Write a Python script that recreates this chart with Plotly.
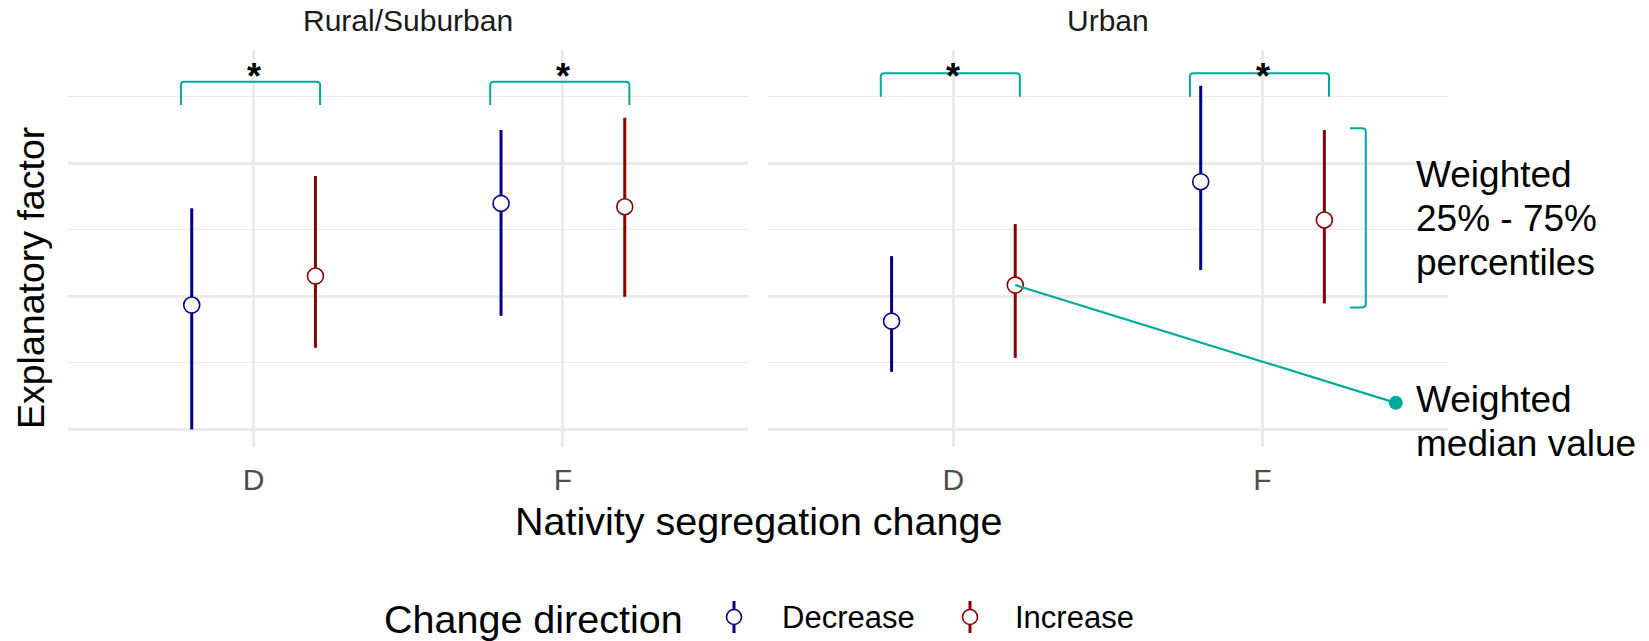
import plotly.graph_objects as go

# ---------------------------------------------------------------- data
categories = ["D", "F"]
panels = ["Rural/Suburban", "Urban"]
directions = ["Decrease", "Increase"]
direction_colors = ["#00008B", "#8B0000"]
dodge = [-0.2, 0.2]

# weighted median and weighted 25% / 75% percentiles, ordered as categories
rural_decrease_median = [0.935, 1.699]
rural_decrease_q25 = [0.000, 0.854]
rural_decrease_q75 = [1.662, 2.250]
rural_increase_median = [1.153, 1.674]
rural_increase_q25 = [0.614, 0.997]
rural_increase_q75 = [1.905, 2.343]

urban_decrease_median = [0.814, 1.862]
urban_decrease_q25 = [0.433, 1.198]
urban_decrease_q75 = [1.303, 2.583]
urban_increase_median = [1.085, 1.574]
urban_increase_q25 = [0.538, 0.947]
urban_increase_q75 = [1.544, 2.250]

# significance brackets: (leg bottom, bar top) per panel, span around category
rural_bracket = [2.438, 2.614]
urban_bracket = [2.501, 2.677]
bracket_span = [-0.235, 0.215]
signif_label = "*"

# explanatory key drawn in the Urban panel
iqr_key_x = [2.283, 2.334]
iqr_key_y = [0.917, 2.263]
median_key_dot = [2.431, 0.200]
iqr_key_text = ["Weighted", "25% - 75%", "percentiles"]
median_key_text = ["Weighted", "median value"]

TEAL = "#00A99D"
GRID = "#EBEBEB"
FONT = "Arial, Liberation Sans, sans-serif"

series = {
    ("Rural/Suburban", "Decrease"): (rural_decrease_median, rural_decrease_q25, rural_decrease_q75),
    ("Rural/Suburban", "Increase"): (rural_increase_median, rural_increase_q25, rural_increase_q75),
    ("Urban", "Decrease"): (urban_decrease_median, urban_decrease_q25, urban_decrease_q75),
    ("Urban", "Increase"): (urban_increase_median, urban_increase_q25, urban_increase_q75),
}

# ---------------------------------------------------------------- layout geometry
W, H = 1649, 641
ML, MR, MT, MB = 68, 201, 50, 194
PW, PH = W - ML - MR, H - MT - MB
Y_RANGE = [-0.132, 2.852]
X_RANGE = [0.4, 2.6]
DOMAINS = [[0, 0.4931], [0.5072, 1]]


def px_x(px):
    return (px - ML) / PW


def px_y(py):
    return (H - MB - py) / PH


fig = go.Figure()
axis_ids = [("x", "y"), ("x2", "y2")]

# ---------------------------------------------------------------- point ranges
for p, panel in enumerate(panels):
    xa, ya = axis_ids[p]
    for d, direction in enumerate(directions):
        med, lo, hi = series[(panel, direction)]
        xs = [i + 1 + dodge[d] for i in range(len(categories))]
        fig.add_trace(go.Scatter(
            x=xs, y=med, mode="markers", xaxis=xa, yaxis=ya,
            name=direction, showlegend=False, cliponaxis=False,
            marker=dict(symbol="circle", size=16, color="white",
                        line=dict(color=direction_colors[d], width=1.6)),
            error_y=dict(type="data", symmetric=False,
                         array=[h - m for h, m in zip(hi, med)],
                         arrayminus=[m - l for m, l in zip(med, lo)],
                         width=0, thickness=3, color=direction_colors[d]),
        ))

# ---------------------------------------------------------------- significance brackets
shapes = []
for p, bracket in enumerate([rural_bracket, urban_bracket]):
    xa, ya = axis_ids[p]
    yb, yt = bracket
    dx, dy = 0.012, 0.025
    for i in range(len(categories)):
        xl, xr = i + 1 + bracket_span[0], i + 1 + bracket_span[1]
        path = (f"M {xl},{yb} L {xl},{yt - dy} Q {xl},{yt} {xl + dx},{yt} "
                f"L {xr - dx},{yt} Q {xr},{yt} {xr},{yt - dy} L {xr},{yb}")
        shapes.append(dict(type="path", path=path, xref=xa, yref=ya,
                           line=dict(color=TEAL, width=2)))

# percentile key bracket
xt, xv = iqr_key_x
y0, y1 = iqr_key_y
dx, dy = 0.012, 0.025
path = (f"M {xt},{y1} L {xv - dx},{y1} Q {xv},{y1} {xv},{y1 - dy} "
        f"L {xv},{y0 + dy} Q {xv},{y0} {xv - dx},{y0} L {xt},{y0}")
shapes.append(dict(type="path", path=path, xref="x2", yref="y2",
                   line=dict(color=TEAL, width=2)))

# median key: leader from the Urban D increase median to the dot
urban_d_inc_x = 1 + dodge[1]
fig.add_trace(go.Scatter(
    x=[urban_d_inc_x, median_key_dot[0]], y=[urban_increase_median[0], median_key_dot[1]],
    mode="lines", line=dict(color=TEAL, width=2.2), xaxis="x2", yaxis="y2",
    showlegend=False, cliponaxis=False, hoverinfo="skip"))
fig.add_trace(go.Scatter(
    x=[median_key_dot[0]], y=[median_key_dot[1]], mode="markers",
    marker=dict(color=TEAL, size=14), xaxis="x2", yaxis="y2",
    showlegend=False, cliponaxis=False, hoverinfo="skip"))

# ---------------------------------------------------------------- text
annotations = []
for p, panel in enumerate(panels):
    xa, _ = axis_ids[p]
    annotations.append(dict(text=panel, xref="paper", yref="paper",
                            x=sum(DOMAINS[p]) / 2, y=px_y(21), showarrow=False,
                            xanchor="center", yanchor="middle",
                            font=dict(size=30, color="#1A1A1A")))
    for i in range(len(categories)):
        annotations.append(dict(text=f"<b>{signif_label}</b>", xref=xa, yref="paper",
                                x=i + 1, y=px_y(76), showarrow=False,
                                xanchor="center", yanchor="middle",
                                font=dict(size=36, color="black")))

for k, line in enumerate(iqr_key_text):
    annotations.append(dict(text=line, xref="paper", yref="paper",
                            x=px_x(1414), y=px_y(174 + 44 * k), showarrow=False,
                            xanchor="left", yanchor="middle",
                            font=dict(size=37, color="black")))
for k, line in enumerate(median_key_text):
    annotations.append(dict(text=line, xref="paper", yref="paper",
                            x=px_x(1414), y=px_y(399 + 44 * k), showarrow=False,
                            xanchor="left", yanchor="middle",
                            font=dict(size=37, color="black")))

# axis titles
annotations.append(dict(text="Nativity segregation change", xref="paper", yref="paper",
                        x=0.5, y=px_y(521), showarrow=False,
                        xanchor="center", yanchor="middle",
                        font=dict(size=39.5, color="black")))
annotations.append(dict(text="Explanatory factor", xref="paper", yref="paper",
                        x=px_x(31), y=px_y(278), showarrow=False, textangle=-90,
                        xanchor="center", yanchor="middle",
                        font=dict(size=37.5, color="black")))

# legend
annotations.append(dict(text="Change direction", xref="paper", yref="paper",
                        x=px_x(382), y=px_y(619), showarrow=False,
                        xanchor="left", yanchor="middle",
                        font=dict(size=39.5, color="black")))
key_x = [734, 970]
label_x = [780, 1013]
for d, direction in enumerate(directions):
    cx, cy, r = key_x[d], 617, 7.5
    shapes.append(dict(type="line", xref="paper", yref="paper",
                       x0=px_x(cx), x1=px_x(cx), y0=px_y(cy - 16), y1=px_y(cy + 16),
                       line=dict(color=direction_colors[d], width=3)))
    shapes.append(dict(type="circle", xref="paper", yref="paper",
                       x0=px_x(cx - r), x1=px_x(cx + r), y0=px_y(cy + r), y1=px_y(cy - r),
                       fillcolor="white", line=dict(color=direction_colors[d], width=1.6)))
    annotations.append(dict(text=direction, xref="paper", yref="paper",
                            x=px_x(label_x[d]), y=px_y(617), showarrow=False,
                            xanchor="left", yanchor="middle",
                            font=dict(size=31, color="black")))

# ---------------------------------------------------------------- axes
common_x = dict(range=X_RANGE, tickvals=[1, 2], ticktext=categories, showgrid=True,
                gridcolor=GRID, gridwidth=2.6, zeroline=False, showline=False,
                ticks="", ticklabelstandoff=12,
                tickfont=dict(size=30, color="#4D4D4D"))
common_y = dict(range=Y_RANGE, tickvals=[0, 1, 2], showticklabels=False, showgrid=True,
                gridcolor=GRID, gridwidth=2.6, zeroline=False, showline=False, ticks="",
                minor=dict(tickvals=[0.5, 1.5, 2.5], showgrid=True, gridcolor=GRID,
                           gridwidth=1.3, ticks=""))

fig.update_layout(
    width=W, height=H,
    margin=dict(l=ML, r=MR, t=MT, b=MB),
    paper_bgcolor="white", plot_bgcolor="white",
    font=dict(family=FONT, color="black"),
    showlegend=False,
    xaxis=dict(domain=DOMAINS[0], anchor="y", **common_x),
    xaxis2=dict(domain=DOMAINS[1], anchor="y2", **common_x),
    yaxis=dict(domain=[0, 1], anchor="x", **common_y),
    yaxis2=dict(domain=[0, 1], anchor="x2", matches="y", **common_y),
    shapes=shapes,
    annotations=annotations,
)

fig.write_html("out.html")
